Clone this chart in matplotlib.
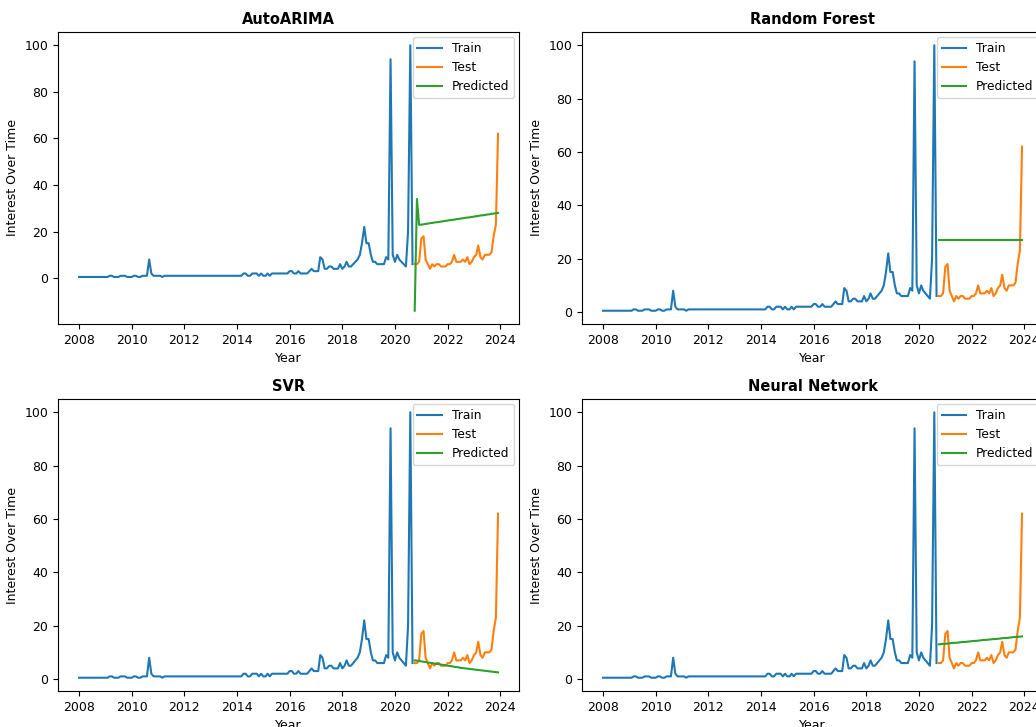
import matplotlib
matplotlib.use("Agg")
import matplotlib.pyplot as plt
import pandas as pd

# monthly interest values, train 2008-01 .. 2020-09, test 2020-10 .. 2023-12
train_vals = [
    0.5, 0.5, 0.5, 0.5, 0.5, 0.5, 0.5, 0.5, 0.5, 0.5, 0.5, 0.5,   # 2008
    0.5, 0.5, 1, 1, 0.5, 0.5, 0.5, 1, 1, 1, 0.5, 0.5,             # 2009
    0.5, 1, 1, 0.5, 0.5, 1, 1, 1, 8, 2, 1, 1,                     # 2010
    1, 1, 0.5, 1, 1, 1, 1, 1, 1, 1, 1, 1,                         # 2011
    1, 1, 1, 1, 1, 1, 1, 1, 1, 1, 1, 1,                           # 2012
    1, 1, 1, 1, 1, 1, 1, 1, 1, 1, 1, 1,                           # 2013
    1, 1, 1, 2, 2, 1, 1, 2, 2, 2, 1, 2,                           # 2014
    1, 1, 2, 1, 2, 2, 2, 2, 2, 2, 2, 2,                           # 2015
    3, 3, 2, 2, 3, 2, 2, 2, 2, 3, 4, 3,                           # 2016
    3, 3, 9, 8, 4, 4, 5, 5, 4, 4, 4, 6,                           # 2017
    4, 5, 7, 5, 5, 6, 7, 8, 10, 15, 22, 15,                       # 2018
    15, 10, 7, 7, 6, 6, 6, 6, 9, 8, 94, 10,                       # 2019
    7, 10, 8, 7, 6, 5, 20, 100, 6,                                # 2020
]
test_vals = [
    6, 6, 7,
    17, 18, 8, 6, 4, 6, 5, 6, 6, 5, 5, 5,
    6, 6, 7, 10, 7, 7, 7, 8, 7, 9, 6, 7,
    9, 10, 14, 9, 8, 10, 10, 10, 11, 18, 23, 62,
]

pred_arima = [
    -14, 34, 22.9,
    23.0, 23.1, 23.3, 23.4, 23.6, 23.7, 23.9, 24.0, 24.1, 24.3, 24.4, 24.6,
    24.7, 24.9, 25.0, 25.1, 25.3, 25.4, 25.6, 25.7, 25.9, 26.0, 26.1, 26.3,
    26.4, 26.6, 26.7, 26.9, 27.0, 27.1, 27.3, 27.4, 27.6, 27.7, 27.9, 28.0,
]
pred_rf = [27.0] * 39
pred_svr = [
    7.0, 6.9, 6.8, 6.6, 6.5, 6.4, 6.2, 6.1, 6.0, 5.8, 5.7, 5.6, 5.4,
    5.3, 5.2, 5.0, 4.9, 4.8, 4.6, 4.5, 4.4, 4.2, 4.1, 4.0, 3.9, 3.8,
    3.7, 3.6, 3.5, 3.4, 3.3, 3.2, 3.1, 3.0, 2.9, 2.8, 2.7, 2.6, 2.5,
]
pred_nn = [
    13.0, 13.1, 13.2, 13.2, 13.3, 13.4, 13.5, 13.6, 13.6, 13.7, 13.8, 13.9, 13.9,
    14.0, 14.1, 14.2, 14.3, 14.3, 14.4, 14.5, 14.6, 14.7, 14.7, 14.8, 14.9, 15.0,
    15.0, 15.1, 15.2, 15.3, 15.4, 15.4, 15.5, 15.6, 15.7, 15.8, 15.8, 15.9, 16.0,
]

models = ["AutoARIMA", "Random Forest", "SVR", "Neural Network"]
preds = [pred_arima, pred_rf, pred_svr, pred_nn]

train_dates = pd.date_range("2008-01-01", periods=len(train_vals), freq="MS")
test_dates = pd.date_range("2020-10-01", periods=len(test_vals), freq="MS")

fig = plt.figure(figsize=(10.36, 7.27), dpi=100)
W, H = 1036, 727
# axes boxes in pixels: left, top ; right column is cut by the figure edge
boxes = [(58, 32), (582, 32), (58, 399), (582, 399)]
aw, ah = 461, 292

for (lx, ty), name, p in zip(boxes, models, preds):
    ax = fig.add_axes([lx / W, (H - ty - ah) / H, aw / W, ah / H])
    ax.plot(train_dates, train_vals, label="Train", lw=1.5)
    ax.plot(test_dates, test_vals, label="Test", lw=1.5)
    ax.plot(test_dates, p, label="Predicted", lw=1.5)
    ax.set_title(name, fontsize=10.5, fontweight="bold")
    ax.set_xlabel("Year", fontsize=9)
    ax.set_ylabel("Interest Over Time", fontsize=9)
    ax.tick_params(labelsize=9)
    ax.legend(loc="upper right", fontsize=8.8, borderaxespad=0.4)

fig.savefig("out.png", dpi=100)
